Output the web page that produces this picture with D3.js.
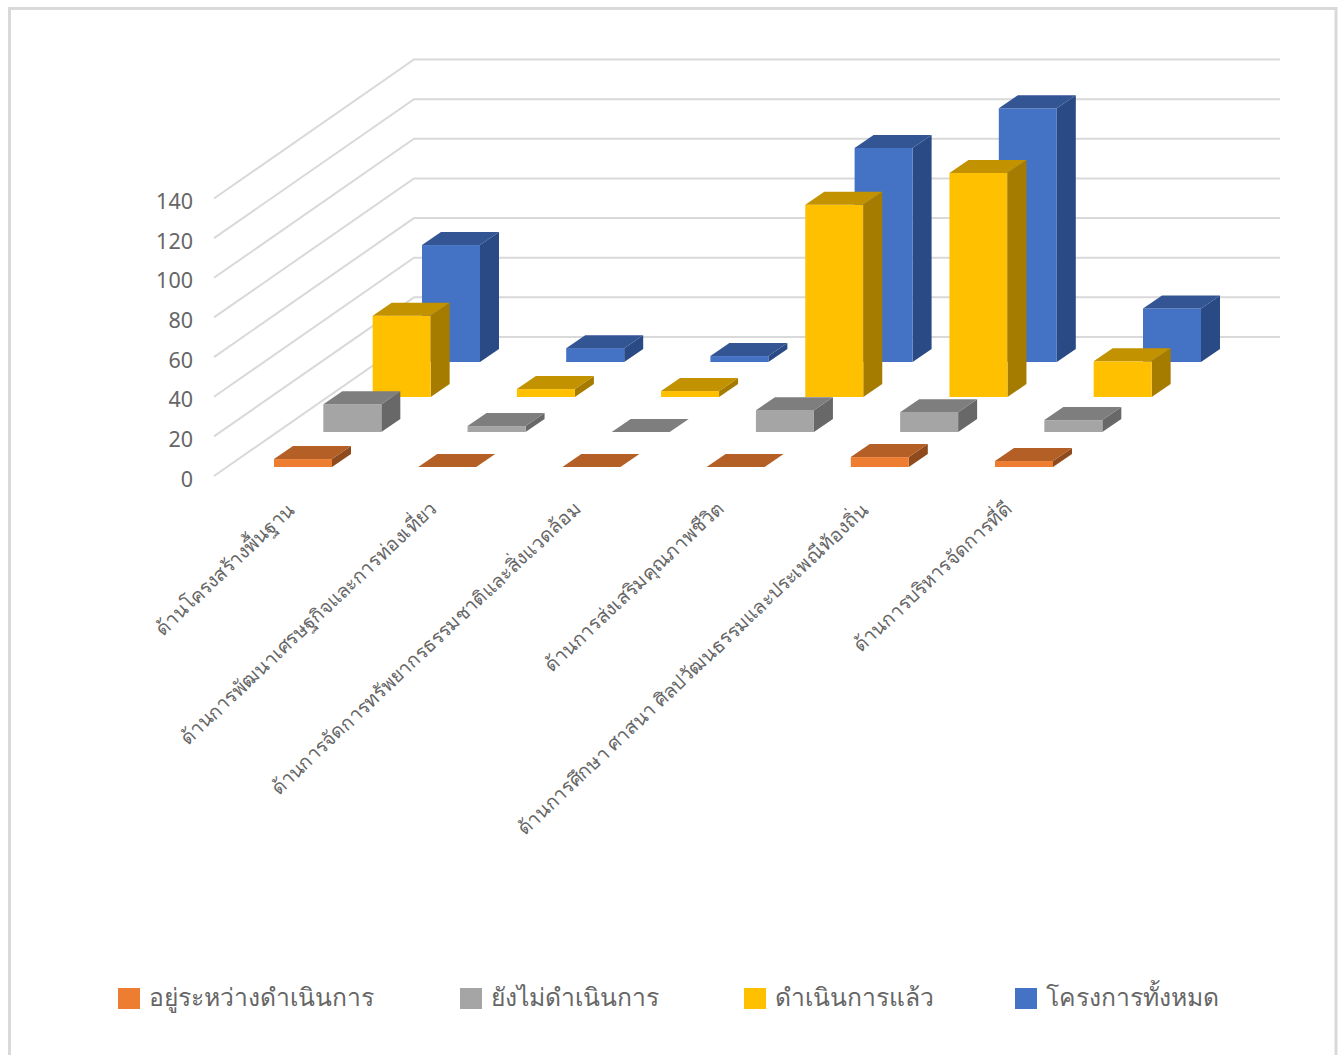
<!DOCTYPE html>
<html><head><meta charset="utf-8">
<script src="https://cdn.jsdelivr.net/npm/d3@7"></script>
<style>html,body{margin:0;padding:0;background:#fff}svg{display:block}</style>
</head><body><svg id="c" width="1344" height="1055"></svg>
<script>
const categories=["ด้านโครงสร้างพื้นฐาน","ด้านการพัฒนาเศรษฐกิจและการท่องเที่ยว","ด้านการจัดการทรัพยากรธรรมชาติและสิ่งแวดล้อม","ด้านการส่งเสริมคุณภาพชีวิต","ด้านการศึกษา ศาสนา ศิลปวัฒนธรรมและประเพณีท้องถิ่น","ด้านการบริหารจัดการที่ดี"];
const seriesNames=["อยู่ระหว่างดำเนินการ","ยังไม่ดำเนินการ","ดำเนินการแล้ว","โครงการทั้งหมด"];
const inProgress=[4,0,0,0,5,3];
const notStarted=[14,3,0,11,10,6];
const done=[41,4,3,97,113,18];
const total=[59,7,3,108,128,27];
const seriesValues=[inProgress,notStarted,done,total];
const yTicks=[0,20,40,60,80,100,120,140];
const palette=[
 {front:"#ED7D31",top:"#B45F25",side:"#8F4B1D"},
 {front:"#A5A5A5",top:"#7E7E7E",side:"#686868"},
 {front:"#FFC000",top:"#C29200",side:"#A67C00"},
 {front:"#4472C4",top:"#335594",side:"#294A85"}];
const font="'Noto Sans','Open Sans',sans-serif";
const svg=d3.select("#c");
svg.append("rect").attr("x",9.5).attr("y",8.5).attr("width",1326.5).attr("height",1060).attr("fill","#fff").attr("stroke","#d9d9d9").attr("stroke-width",3);

// oblique projection: value → pixels up, category → right, series → depth
const yPx=d3.scaleLinear().domain([0,140]).range([0,277.5]);
const xCat=d3.scaleLinear().domain([0,5]).range([274,995]);
const depthX=d3.scaleLinear().domain([0,3]).range([0,148]);
const depthY=d3.scaleLinear().domain([0,3]).range([467,362]);
const barW=58, dx=19, dy=13;

// walls
const g=svg.append("g");
yTicks.forEach(t=>{
  const y0=476-yPx(t), y1=337-yPx(t);
  g.append("polyline").attr("points",`214,${y0} 414,${y1} 1280,${y1}`)
   .attr("fill","none").attr("stroke","#d9d9d9").attr("stroke-width",2);
  g.append("text").attr("x",193).attr("y",y0+10.5).attr("text-anchor","end")
   .attr("font-family",font).attr("font-size",21.5).attr("fill","#666").text(t);
});

// bars, back to front
d3.range(3,-1,-1).forEach(s=>{
  const c=palette[s], base=depthY(s), off=depthX(s);
  seriesValues[s].forEach((v,i)=>{
    const x=xCat(i)+off, h=yPx(v), top=base-h;
    const b=g.append("g");
    const poly=(pts,f)=>b.append("polygon").attr("points",pts.map(p=>p.join(",")).join(" ")).attr("fill",f);
    if(h>0){
      poly([[x+barW,base],[x+barW+dx,base-dy],[x+barW+dx,top-dy],[x+barW,top]],c.side);
      b.append("rect").attr("x",x).attr("y",top).attr("width",barW).attr("height",h).attr("fill",c.front);
    }
    poly([[x,top],[x+barW,top],[x+barW+dx,top-dy],[x+dx,top-dy]],c.top);
  });
});

// category labels
const labelEnd=[[295,512],[438,510],[582,510],[725,510],[869,512],[1013,510]];
categories.forEach((t,i)=>{
  g.append("text").attr("transform",`translate(${labelEnd[i][0]},${labelEnd[i][1]}) rotate(-43.3)`)
   .attr("text-anchor","end").attr("font-family",font).attr("font-size",19.4).attr("fill","#666").text(t);
});

// legend
const swX=[118,460,744,1015];
seriesNames.forEach((t,i)=>{
  g.append("rect").attr("x",swX[i]).attr("y",988).attr("width",22).attr("height",21).attr("fill",palette[i].front);
  g.append("text").attr("x",swX[i]+31).attr("y",1006).attr("font-family",font).attr("font-size",24.7).attr("fill","#666").text(t);
});
</script></body></html>
